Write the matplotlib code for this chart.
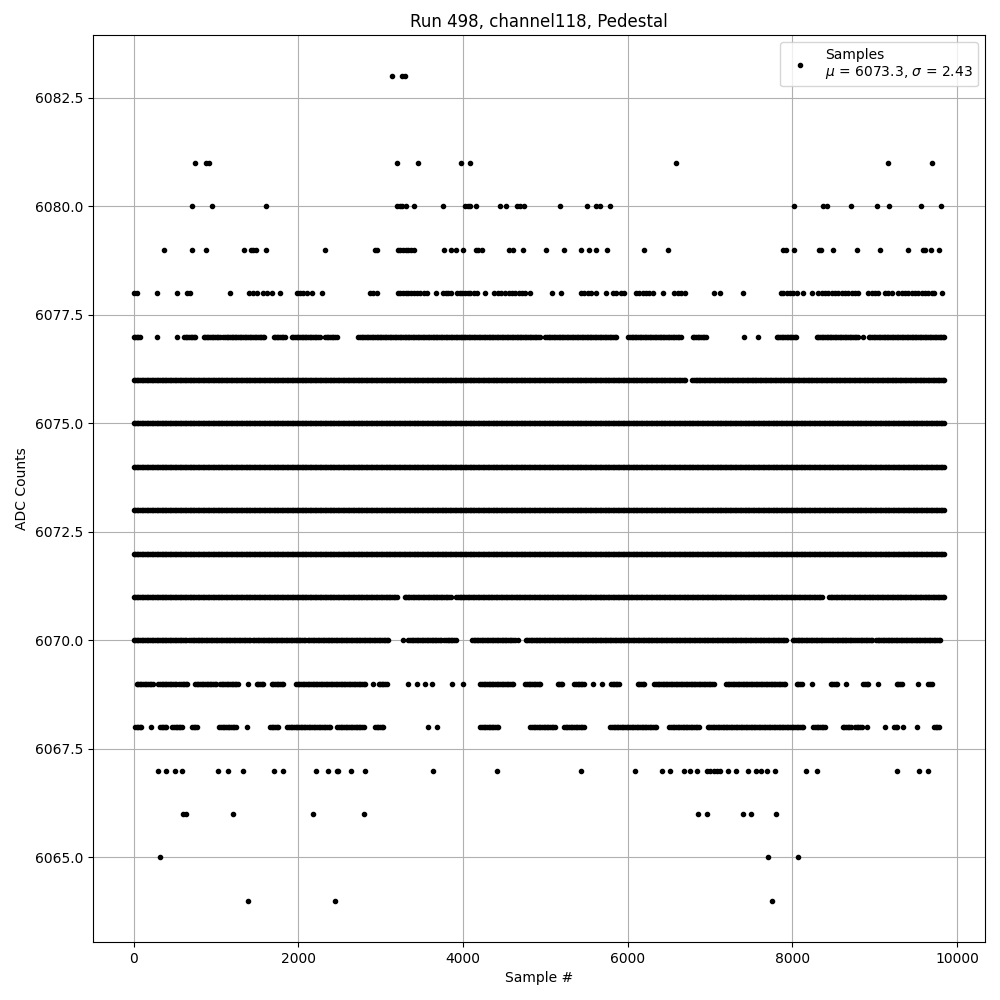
import numpy as np
import matplotlib
matplotlib.use('Agg')
import matplotlib.pyplot as plt

RUN = 498
CHANNEL = 118
MU = 6073.3
SIGMA = 2.43

# sparse ADC levels: sample numbers
lvl_6083 = [3137, 3258, 3291]
lvl_6081 = [742, 880, 912, 3198, 3453, 3976, 4081, 6584, 9167, 9702]
lvl_6080 = [705, 948, 1605, 3198, 3230, 3262, 3311, 3404, 3757, 4028, 4057,
            4089, 4162, 4454, 4523, 4657, 4697, 4738, 5181, 5501, 5615, 5668,
            5781, 8024, 8377, 8426, 8717, 9034, 9175, 9569, 9812]
lvl_6079 = [373, 705, 875, 1337, 1423, 1455, 1487, 1605, 2330, 2934, 2962,
            3206, 3238, 3270, 3303, 3335, 3368, 3400, 3773, 3854, 3919, 4000,
            4154, 4186, 4227, 4559, 4608, 4725, 5009, 5222, 5429, 5526, 5611,
            5745, 6195, 6486, 7891, 7923, 8024, 8320, 8353, 8499, 8790, 9070,
            9410, 9585, 9617, 9682, 9787]
lvl_6078 = [4, 36, 280, 527, 644, 681, 1167, 1406, 1455, 1504, 1577, 1617,
            1682, 1775, 1982, 2022, 2063, 2104, 2168, 2286, 2873, 2914, 2954,
            3206, 3238, 3270, 3303, 3335, 3368, 3400, 3441, 3481, 3522, 3562,
            3676, 3757, 3789, 3822, 3854, 3927, 3959, 3992, 4024, 4057, 4089,
            4130, 4170, 4268, 4381, 4422, 4462, 4515, 4555, 4596, 4636, 4677,
            4717, 4758, 4819, 5086, 5197, 5433, 5473, 5514, 5554, 5615, 5737,
            5818, 5858, 5919, 5959, 6101, 6142, 6182, 6223, 6263, 6304, 6425,
            6567, 6608, 6648, 6697, 7054, 7127, 7398, 7860, 7891, 7931, 7972,
            8012, 8053, 8134, 8239, 8316, 8357, 8397, 8438, 8478, 8519, 8559,
            8600, 8640, 8681, 8721, 8762, 8802, 8924, 8965, 9005, 9046, 9127,
            9167, 9207, 9289, 9329, 9370, 9410, 9451, 9491, 9532, 9572, 9613,
            9653, 9694, 9722, 9822]
lvl_6067 = [300, 393, 503, 584, 1029, 1143, 1325, 1710, 1820, 2213, 2367,
            2468, 2488, 2638, 2808, 3635, 4413, 5429, 6093, 6413, 6511, 6689,
            6762, 6843, 6965, 7005, 7046, 7086, 7127, 7216, 7317, 7459, 7560,
            7621, 7690, 7791, 8166, 8296, 9269, 9544, 9654]
lvl_6066 = [604, 636, 1204, 2176, 2796, 6851, 6961, 7398, 7499, 7800]
lvl_6065 = [316, 7702, 8073]
lvl_6064 = [1394, 2448, 7751]

# dense ADC levels: runs of samples (first, last) that look unbroken
runs_6077 = [(0, 97), (280, 280), (523, 523), (612, 770), (850, 1050),
             (1090, 1600), (1700, 1850), (1920, 2270), (2326, 2468),
             (2731, 4940), (5001, 5878), (6008, 6648), (6790, 6952),
             (7410, 7410), (7580, 7580), (7810, 8061), (8296, 8815),
             (8855, 8855), (8928, 9850)]
runs_6076 = [(0, 6710), (6785, 9850)]
runs_6075 = [(0, 9850)]
runs_6074 = [(0, 9850)]
runs_6073 = [(0, 9850)]
runs_6072 = [(0, 9850)]
runs_6071 = [(0, 3206), (3291, 3854), (3919, 8377), (8446, 9850)]
runs_6070 = [(0, 644), (677, 1423), (1447, 2095), (2116, 3104), (3278, 3278),
             (3339, 3745), (3773, 3927), (4109, 4636), (4669, 4669),
             (4762, 7939), (8004, 8409), (8438, 8762), (8790, 8977),
             (9017, 9815)]
runs_6069 = [(36, 239), (300, 523), (555, 657), (746, 1009), (1050, 1273),
             (1394, 1394), (1496, 1577), (1678, 1828), (1974, 2833),
             (2906, 2906), (2975, 3076), (3339, 3339), (3441, 3441),
             (3534, 3534), (3623, 3623), (3866, 3866), (4000, 4000),
             (4211, 4616), (4758, 4940), (5149, 5210), (5352, 5473),
             (5575, 5575), (5684, 5684), (5797, 5899), (6122, 6211),
             (6324, 7054), (7196, 7923), (8053, 8113), (8235, 8235),
             (8466, 8551), (8653, 8653), (8863, 8924), (9046, 9046),
             (9269, 9342), (9532, 9532), (9653, 9694)]
runs_6068 = [(16, 109), (207, 207), (320, 401), (470, 604), (709, 786),
             (1042, 1244), (1382, 1382), (1658, 1759), (1868, 2407),
             (2476, 2812), (2934, 3036), (3570, 3570), (3684, 3684),
             (4211, 4434), (4819, 5129), (5230, 5473), (5789, 6365),
             (6507, 6871), (6973, 8134), (8255, 8397), (8612, 8721),
             (8762, 8843), (8904, 8904), (9127, 9127), (9236, 9289),
             (9350, 9350), (9512, 9512), (9722, 9790)]

sparse = {6083: lvl_6083, 6081: lvl_6081, 6080: lvl_6080, 6079: lvl_6079,
          6078: lvl_6078, 6067: lvl_6067, 6066: lvl_6066, 6065: lvl_6065,
          6064: lvl_6064}
dense = {6077: runs_6077, 6076: runs_6076, 6075: runs_6075, 6074: runs_6074,
         6073: runs_6073, 6072: runs_6072, 6071: runs_6071, 6070: runs_6070,
         6069: runs_6069, 6068: runs_6068}

STEP = 20  # spacing of dots drawn along a run

xs, ys = [], []
for adc, samples in sparse.items():
    xs.extend(samples)
    ys.extend([adc] * len(samples))
for adc, runs in dense.items():
    for a, b in runs:
        pts = np.arange(a, b + 1, STEP)
        xs.extend(pts)
        ys.extend([adc] * len(pts))

fig, ax = plt.subplots(figsize=(10, 10), dpi=100)
ax.plot(xs, ys, 'k.',
        label='Samples\n$\\mu$ = {:.1f}, $\\sigma$ = {:.2f}'.format(MU, SIGMA))
ax.set_title('Run {}, channel{}, Pedestal'.format(RUN, CHANNEL))
ax.set_xlabel('Sample #')
ax.set_ylabel('ADC Counts')
ax.grid(True)
ax.legend(loc='upper right')
fig.subplots_adjust(left=0.093, right=0.985, top=0.965, bottom=0.058)
fig.savefig('out.png')
